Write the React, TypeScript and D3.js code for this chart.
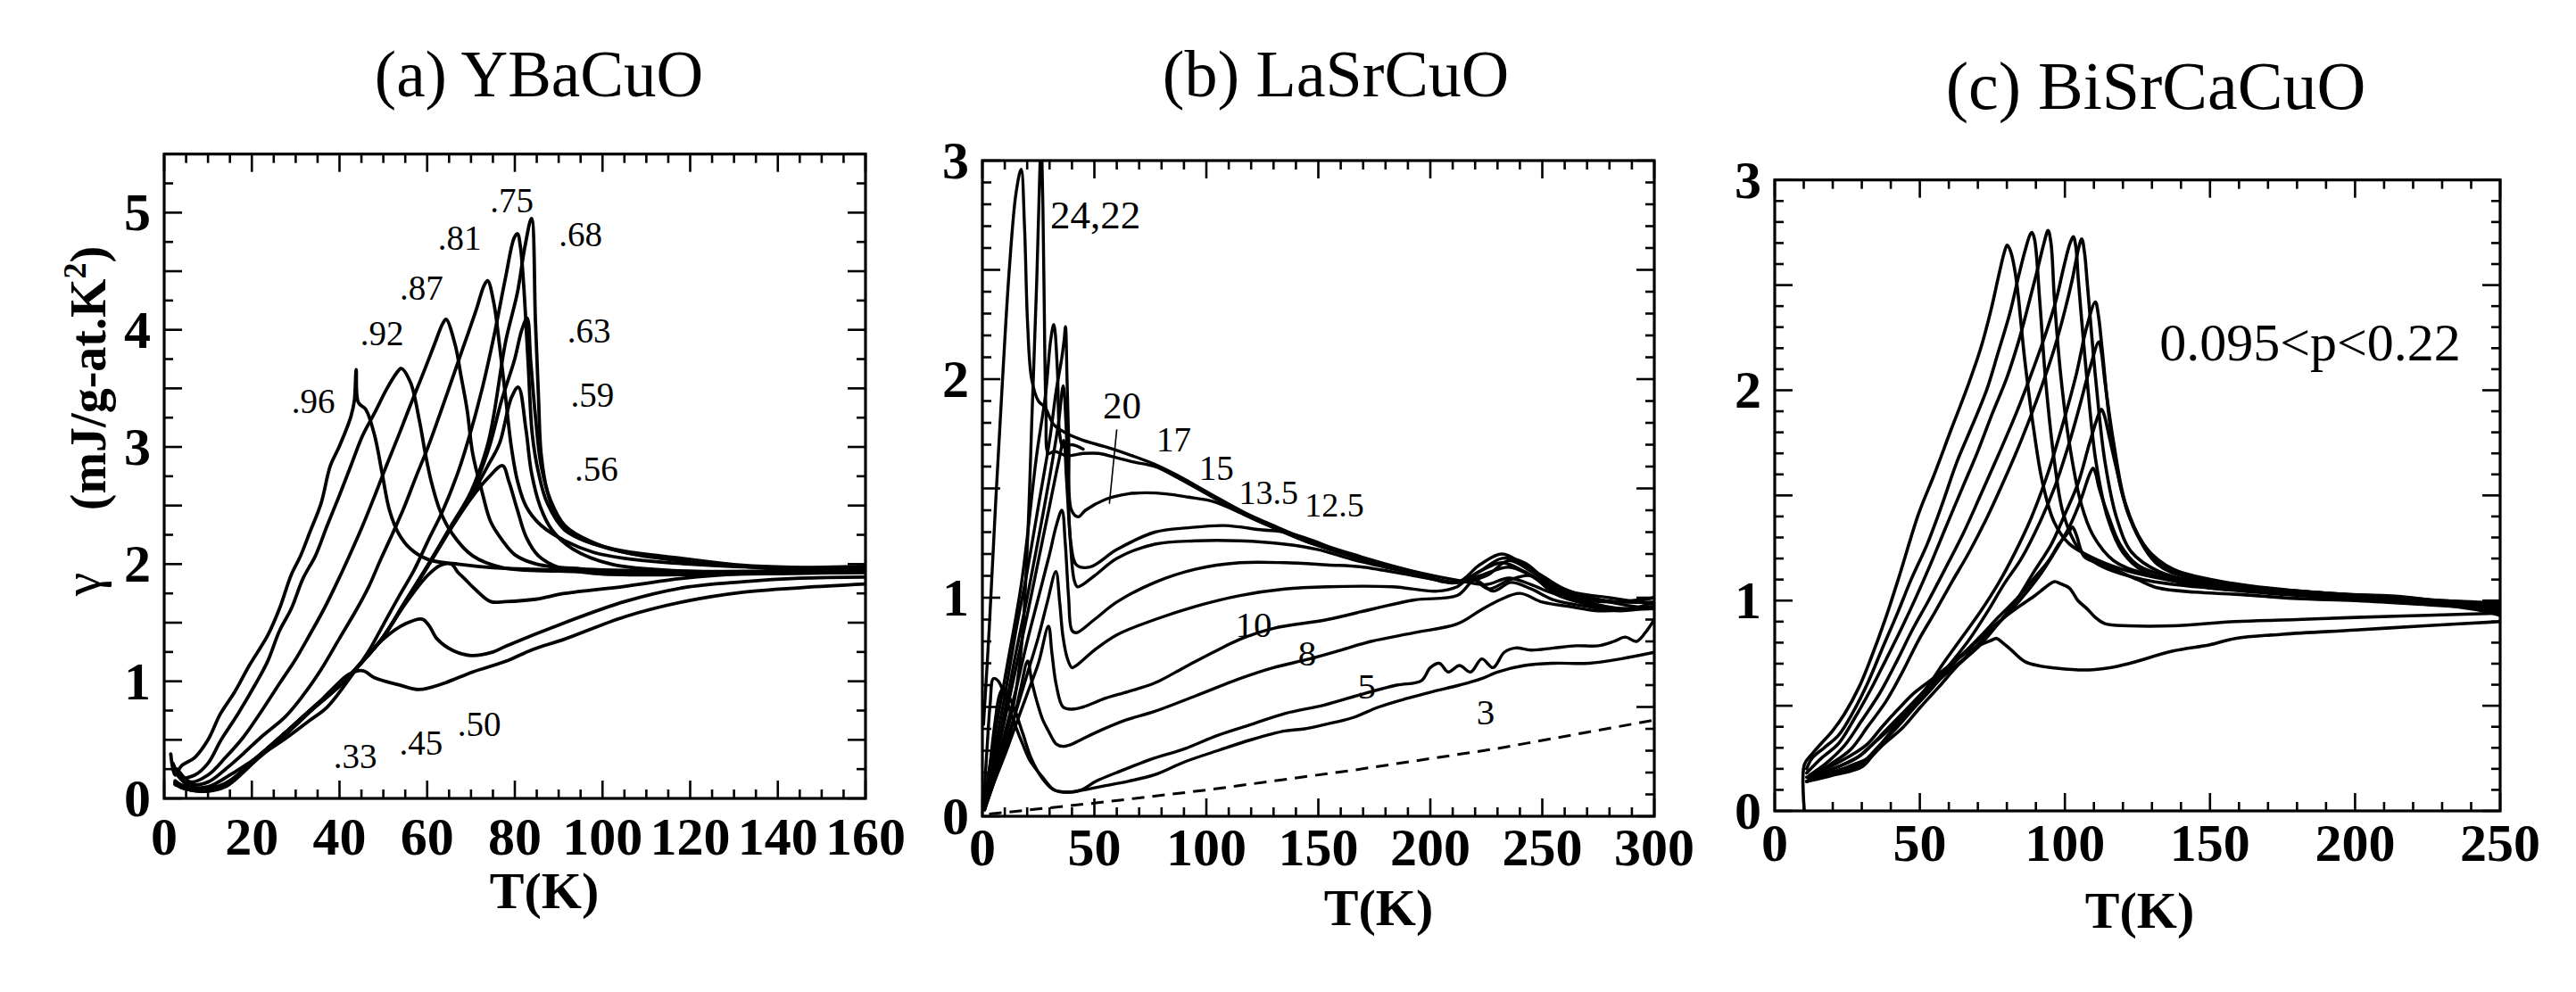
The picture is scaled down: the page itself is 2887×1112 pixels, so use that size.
import React from 'react';
import * as d3 from 'd3';

type Pt = [number, number];

// ---------------- Panel (a) YBaCuO ----------------
const aTitle = '(a) YBaCuO';
const aXTickLabels = [0, 20, 40, 60, 80, 100, 120, 140, 160];
const aYTickLabels = [0, 1, 2, 3, 4, 5];

const a96: Pt[] = [[1.5,0.38],[2.5,0.2],[4,0.28],[7,0.35],[10,0.5],[12.8,0.72],[16.1,0.91],[19.5,1.14],[23.6,1.39],[26.3,1.62],[29,1.91],[31.1,2.07],[33.1,2.26],[35.8,2.52],[37.9,2.84],[39.9,3.0],[42.6,3.26],[43.4,3.4],[43.8,3.66],[44.3,3.38],[46,3.32],[48,3.1],[49.7,2.78],[51.4,2.46],[53.5,2.26],[56.2,2.13],[60.2,2.04],[67,2.0],[75,1.97],[90,1.95],[110,1.93],[130,1.92],[160,1.93]];
const a92: Pt[] = [[2,0.3],[4,0.18],[7,0.2],[10,0.3],[13,0.5],[16.8,0.72],[20.9,0.98],[23.6,1.17],[26.3,1.43],[29,1.62],[31.7,1.88],[34.5,2.07],[37.2,2.33],[39.9,2.58],[42.6,2.84],[45.3,3.1],[48,3.29],[50.7,3.49],[53,3.63],[54.1,3.67],[56.2,3.55],[58.2,3.23],[59.6,2.94],[60.9,2.71],[62.9,2.46],[65.7,2.26],[70.4,2.07],[77.2,1.97],[90,1.94],[110,1.93],[130,1.93],[160,1.95]];
const a87: Pt[] = [[3,0.25],[6,0.14],[10,0.2],[14,0.35],[18,0.52],[22.3,0.75],[26.3,0.98],[29.7,1.17],[33.1,1.39],[36.5,1.62],[39.9,1.88],[42.6,2.1],[45.3,2.33],[48,2.58],[50.7,2.84],[53.5,3.1],[56.2,3.36],[58.9,3.61],[61.6,3.87],[63.5,4.05],[64.3,4.09],[66.4,3.87],[67.7,3.61],[69.1,3.32],[70.4,2.94],[72.5,2.62],[74.5,2.36],[77.2,2.2],[80,2.08],[85,2.0],[95,1.96],[115,1.94],[140,1.94],[160,1.96]];
const a81: Pt[] = [[3,0.22],[6,0.12],[10,0.14],[14,0.25],[18,0.38],[22,0.52],[27.7,0.7],[31.7,0.88],[35.8,1.1],[39.9,1.36],[44,1.62],[46.7,1.81],[49.4,2.04],[52.1,2.26],[54.8,2.49],[57.5,2.75],[60.2,3.0],[63,3.29],[65.7,3.58],[68.4,3.87],[71.1,4.16],[73,4.38],[73.8,4.42],[75.2,4.23],[76.5,3.87],[77.9,3.42],[79.2,3.0],[80.6,2.71],[82.6,2.49],[86,2.33],[91.4,2.2],[98,2.1],[105,2.05],[120,2.0],[140,1.97],[160,1.98]];
const a75: Pt[] = [[3,0.2],[6,0.1],[10,0.1],[15,0.2],[20,0.32],[28,0.52],[33,0.66],[37.2,0.78],[42.6,1.04],[46.7,1.26],[50.1,1.49],[53.5,1.72],[56.9,1.94],[60.2,2.2],[63.6,2.46],[67,2.78],[69.7,3.1],[72.5,3.49],[75.2,3.94],[77.9,4.45],[79.8,4.78],[80.6,4.82],[81.3,4.7],[82,4.39],[83,3.74],[84,3.1],[85.4,2.78],[87.4,2.52],[91.4,2.29],[98.2,2.17],[105,2.11],[118,2.05],[132,1.99],[160,1.96]];
const a68: Pt[] = [[2.5,0.15],[5,0.09],[9,0.07],[14,0.12],[20.8,0.34],[27.3,0.55],[33.8,0.77],[40.3,0.98],[46,1.2],[50,1.38],[55,1.68],[60,1.98],[65,2.3],[70,2.62],[74,3.05],[77.9,3.9],[80.6,4.32],[82.3,4.71],[83.8,4.95],[84.7,4.07],[85.4,3.42],[86,2.94],[87.4,2.62],[89.4,2.42],[92.8,2.26],[98.2,2.17],[105,2.1],[118.6,2.04],[132,1.98],[145,1.95],[160,1.97]];
const a63: Pt[] = [[2.5,0.14],[5,0.1],[9,0.08],[14,0.13],[20.8,0.33],[27.3,0.55],[33.8,0.77],[40.3,0.98],[46,1.2],[50,1.38],[55,1.68],[60,1.98],[65,2.29],[70,2.6],[74,2.98],[77,3.4],[79.9,3.74],[81.6,4.0],[82.8,4.1],[83.6,3.74],[84.7,3.26],[86,2.84],[88.1,2.55],[91.4,2.33],[96.9,2.2],[105,2.1],[125,2.0],[145,1.96],[160,1.95]];
const a59: Pt[] = [[2.5,0.13],[5,0.09],[9,0.07],[14,0.12],[20.8,0.34],[27.3,0.54],[33.8,0.76],[40.3,0.98],[46,1.2],[50,1.38],[55,1.67],[60,1.97],[65,2.28],[70,2.58],[74,2.85],[76.5,3.03],[79.2,3.42],[80.8,3.51],[82.5,3.16],[83.8,2.78],[85.8,2.49],[88.5,2.29],[93.2,2.13],[102,2.0],[118.6,1.94],[140,1.93],[160,1.94]];
const a56: Pt[] = [[2.5,0.12],[5,0.08],[9,0.06],[14,0.11],[20.8,0.33],[27.3,0.55],[33.8,0.77],[40.3,0.98],[46,1.2],[50,1.38],[55,1.68],[60,1.98],[65,2.28],[70,2.56],[74,2.74],[77.2,2.84],[78.6,2.71],[80.6,2.46],[82.6,2.23],[85.4,2.07],[90.1,1.97],[98.2,1.92],[118.6,1.91],[140,1.92],[160,1.93]];
const a50: Pt[] = [[2.5,0.14],[5,0.1],[9,0.08],[14,0.12],[20.8,0.34],[27.3,0.55],[33.8,0.76],[40.3,0.97],[46,1.2],[50,1.38],[55,1.66],[60,1.9],[63,1.99],[65.5,2.0],[67,1.93],[68.4,1.88],[71.1,1.78],[74.5,1.68],[77.9,1.68],[84.7,1.7],[91.4,1.75],[105,1.81],[118.6,1.88],[132,1.92],[160,1.96]];
const a45: Pt[] = [[2.5,0.13],[5,0.09],[9,0.07],[14,0.11],[20.8,0.33],[27.3,0.54],[33.8,0.76],[40.3,0.97],[46,1.2],[50,1.36],[55,1.49],[58.9,1.53],[60.5,1.47],[62.3,1.36],[66,1.26],[70,1.22],[75,1.25],[78,1.3],[91.4,1.5],[105,1.68],[118.6,1.8],[132,1.85],[145,1.88],[160,1.89]];
const a33: Pt[] = [[2.5,0.12],[5,0.08],[9,0.06],[14,0.1],[20.8,0.32],[27.3,0.53],[33.8,0.76],[38,0.92],[42.2,1.06],[45.3,1.09],[48,1.03],[53.5,0.97],[58.2,0.93],[63.6,0.98],[70.4,1.08],[77.9,1.17],[84,1.27],[91.4,1.36],[105,1.55],[118.6,1.68],[132,1.76],[145.7,1.8],[160,1.83]];
const aSeries: Pt[][] = [a96, a92, a87, a81, a75, a68, a63, a59, a56, a50, a45, a33];

const aLabelText = ['.96', '.92', '.87', '.81', '.75', '.68', '.63', '.59', '.56', '.50', '.45', '.33'];
const aLabelT = [34.0, 49.7, 58.7, 67.4, 79.3, 95.0, 96.9, 97.7, 98.6, 71.9, 58.6, 43.6];
const aLabelG = [3.29, 3.87, 4.26, 4.68, 5.0, 4.71, 3.89, 3.34, 2.71, 0.53, 0.37, 0.26];

// ---------------- Panel (b) LaSrCuO ----------------
const bTitle = '(b) LaSrCuO';
const bXTickLabels = [0, 50, 100, 150, 200, 250, 300];
const bYTickLabels = [0, 1, 2, 3];

const b24: Pt[] = [[0.5,0.42],[3,0.85],[6,1.45],[9,2.0],[12,2.5],[15,2.85],[17.3,2.96],[18.8,2.7],[20.2,2.25],[22,2.0],[25,1.9],[28,1.87],[32,1.79],[38,1.75],[45,1.72],[55,1.69],[64,1.66],[77,1.61],[87,1.56],[101,1.48],[117,1.39],[130,1.33],[144,1.27],[165,1.2],[193,1.12],[212,1.08],[225,1.06],[235,1.09],[245,1.06],[255,1.02],[270,1.0],[285,0.98],[300,0.98]];
const b22: Pt[] = [[1,0.08],[3,0.14],[8,0.29],[13.5,0.49],[17.5,0.78],[20.2,1.27],[22.2,1.85],[24.2,2.43],[25.5,2.9],[26.2,3.1],[27,2.8],[27.5,2.43],[28.4,1.85],[29.5,1.66],[32,1.67],[37.5,1.65],[45,1.66],[52,1.66],[60,1.64],[68,1.62],[77,1.6],[87,1.55],[101,1.47],[117,1.38],[130,1.32],[144,1.26],[165,1.19],[193,1.11],[212,1.07],[222,1.12],[232,1.16],[242,1.12],[252,1.06],[265,1.0],[280,0.98],[300,1.0]];
const b21: Pt[] = [[1,0.06],[4.2,0.29],[10.9,0.68],[17.5,1.07],[24.2,1.65],[28.2,1.93],[30.5,2.18],[31.9,2.25],[33.5,2.04],[34.5,1.75],[36,1.69],[40,1.7],[45,1.68]];
const b20: Pt[] = [[1,0.05],[5,0.28],[10,0.55],[15,0.85],[20,1.12],[25,1.42],[30,1.72],[33,1.95],[35.5,2.1],[36.5,2.18],[37.1,2.24],[37.8,2.0],[38.6,1.7],[39.8,1.4],[42.8,1.37],[46,1.4],[55,1.45],[65,1.475],[73,1.48],[82,1.475],[92,1.46],[103,1.44],[117,1.38],[130,1.32],[144,1.26],[165,1.19],[193,1.11],[212,1.07],[222,1.15],[232,1.2],[242,1.15],[250,1.1],[262,1.03],[280,1.0],[300,0.97]];
const b17: Pt[] = [[1,0.04],[5,0.24],[10,0.48],[15,0.75],[20,1.0],[25,1.27],[30,1.55],[34,1.8],[36.1,1.97],[37.3,1.8],[38.3,1.5],[39.5,1.25],[42,1.15],[48,1.14],[60,1.22],[77,1.3],[92,1.32],[108,1.33],[125,1.31],[135,1.3],[148,1.26],[165,1.19],[193,1.11],[212,1.07],[225,1.1],[235,1.17],[245,1.12],[255,1.05],[270,1.0],[285,0.98],[300,1.0]];
const b15: Pt[] = [[1,0.04],[5,0.22],[10,0.44],[15,0.68],[20,0.92],[25,1.17],[30,1.42],[34,1.62],[36.3,1.72],[37.5,1.55],[39,1.3],[41,1.08],[42.5,1.05],[50,1.1],[60,1.18],[77,1.245],[95,1.26],[115,1.26],[135,1.245],[150,1.22],[167,1.17],[193,1.11],[212,1.07],[222,1.12],[232,1.18],[242,1.16],[252,1.08],[265,1.02],[285,0.97],[300,0.95]];
const b135: Pt[] = [[1,0.03],[5,0.2],[10,0.38],[15,0.58],[20,0.8],[25,1.0],[30,1.2],[33,1.33],[35.5,1.4],[37,1.25],[38.5,1.0],[40,0.85],[42,0.84],[50,0.9],[60,0.98],[77,1.07],[95,1.13],[115,1.16],[135,1.16],[154,1.15],[170,1.14],[193,1.1],[212,1.07],[222,1.1],[235,1.14],[245,1.1],[255,1.03],[270,0.98],[285,0.95],[300,0.95]];
const b125: Pt[] = [[1,0.03],[5,0.17],[10,0.32],[15,0.48],[20,0.65],[25,0.82],[29,0.98],[32.8,1.12],[34.5,0.98],[36,0.82],[38,0.72],[40,0.68],[42,0.69],[50,0.76],[60,0.83],[77,0.9],[95,0.96],[115,1.01],[135,1.04],[154,1.05],[183,1.05],[203,1.03],[212,1.05],[218,1.09],[226,1.04],[235,1.08],[245,1.1],[255,1.02],[270,0.97],[285,0.95],[300,0.96]];
const b10: Pt[] = [[1,0.03],[5,0.15],[10,0.28],[15,0.42],[20,0.56],[25,0.7],[29.5,0.87],[31,0.75],[33,0.6],[36,0.5],[40,0.49],[45,0.5],[55,0.54],[65,0.57],[77,0.61],[90,0.68],[103,0.75],[115,0.81],[130,0.86],[154,0.9],[175,0.95],[193,0.99],[212,1.01],[220,1.08],[228,1.03],[236,1.07],[245,1.04],[255,0.99],[270,0.96],[285,0.94],[300,0.96]];
const b8: Pt[] = [[1,0.03],[5,0.15],[10,0.3],[14,0.44],[17,0.58],[20.2,0.71],[22,0.62],[24.2,0.53],[27,0.44],[29.5,0.39],[33,0.33],[36,0.32],[40,0.33],[44,0.35],[50,0.38],[64,0.44],[77,0.48],[95,0.55],[115,0.63],[130,0.68],[146,0.72],[160,0.76],[173.5,0.8],[193,0.84],[212,0.88],[222,0.94],[231,0.99],[240,1.02],[250,0.98],[262,0.96],[275,0.94],[290,0.95],[300,0.98]];
const b5: Pt[] = [[0.5,0.05],[2,0.3],[3.5,0.52],[4.9,0.63],[7,0.62],[10,0.55],[14.9,0.41],[18,0.33],[21.5,0.25],[26.8,0.18],[32.1,0.12],[37.5,0.11],[44,0.12],[50.7,0.16],[60,0.2],[75,0.26],[90.6,0.31],[105,0.37],[120,0.42],[135,0.47],[153,0.51],[170,0.56],[185,0.6],[196,0.62],[200,0.68],[204,0.7],[208,0.66],[213,0.69],[218,0.66],[223,0.72],[228,0.68],[233,0.75],[238,0.77],[245,0.76],[255,0.77],[265,0.78],[275,0.78],[282,0.8],[287,0.82],[292,0.8],[296,0.84],[300,0.9]];
const b3: Pt[] = [[1,0.04],[3,0.2],[5.5,0.42],[7.5,0.55],[8.9,0.58],[11,0.56],[14,0.5],[18,0.38],[22,0.26],[27,0.17],[32,0.12],[38,0.11],[45,0.12],[55,0.14],[65,0.16],[77,0.19],[90.6,0.25],[105,0.3],[120,0.35],[135,0.39],[144,0.4],[153,0.42],[165,0.45],[177,0.5],[190,0.54],[201,0.57],[213,0.6],[223,0.63],[230,0.66],[242,0.69],[255,0.7],[271,0.7],[285,0.72],[300,0.75]];
const bSeries: Pt[][] = [b24, b22, b21, b20, b17, b15, b135, b125, b10, b8, b5, b3];
const bDashed: Pt[] = [[3,0.01],[50,0.06],[100,0.12],[165,0.21],[230,0.31],[300,0.44]];

const bLabelText = ['24,22', '20', '17', '15', '13.5', '12.5', '10', '8', '5', '3'];
const bLabelT = [50.4, 62.4, 85.5, 104.5, 127.8, 157.2, 121.1, 145, 171.6, 224.7];
const bLabelG = [2.69, 1.82, 1.67, 1.54, 1.43, 1.37, 0.82, 0.69, 0.54, 0.42];
const bLeader: Pt[] = [[60, 1.77], [56.7, 1.43]];
const bLabelFont = [45, 43, 39, 39, 38, 38, 41, 41, 41, 41];

// ---------------- Panel (c) BiSrCaCuO ----------------
const cTitle = '(c) BiSrCaCuO';
const cXTickLabels = [0, 50, 100, 150, 200, 250];
const cYTickLabels = [0, 1, 2, 3];
const cNote = '0.095<p<0.22';
const cNotePos: Pt = [184.5, 2.14];

const c1: Pt[] = [[10.2,0.0],[10.2,0.22],[12.8,0.27],[16,0.32],[19.9,0.38],[24,0.46],[29.1,0.59],[33,0.72],[38.3,0.92],[43,1.12],[49.5,1.41],[55,1.6],[60.7,1.81],[66,2.0],[71,2.2],[74.5,2.38],[77.1,2.54],[79,2.65],[80.1,2.69],[81.3,2.66],[83.1,2.54],[86.2,2.14],[89.3,1.81],[92.3,1.56],[96.4,1.37],[101.5,1.27],[111.7,1.19],[121.9,1.14],[142.3,1.08],[150,1.06],[175,1.03],[200,1.01],[225,0.99],[250,0.97]];
const c2: Pt[] = [[11,0.2],[12.8,0.25],[17,0.3],[22,0.36],[27,0.47],[32.1,0.61],[37,0.77],[42.3,0.94],[47,1.1],[52.6,1.27],[57.5,1.45],[62.8,1.66],[68,1.83],[73,2.0],[77,2.18],[81.1,2.37],[84,2.54],[86.2,2.66],[88,2.74],[88.6,2.75],[89.5,2.72],[91.3,2.43],[93.4,2.04],[96.4,1.66],[99.5,1.41],[104.6,1.25],[111.7,1.17],[127,1.1],[150,1.06],[175,1.04],[200,1.02],[225,1.0],[250,0.96]];
const c3: Pt[] = [[11,0.18],[16,0.25],[22,0.32],[27.5,0.44],[33.2,0.58],[38,0.71],[43.4,0.86],[48.5,1.01],[53.6,1.17],[59,1.35],[64.8,1.54],[70,1.71],[75,1.89],[80,2.06],[84.2,2.24],[87.5,2.41],[90.3,2.56],[92.8,2.7],[94.2,2.76],[95.2,2.7],[96.4,2.43],[98.5,2.08],[101.5,1.75],[105.6,1.46],[109.7,1.31],[116.8,1.19],[127,1.13],[150,1.07],[175,1.04],[200,1.02],[225,1.0],[250,0.97]];
const c4: Pt[] = [[12,0.17],[18,0.23],[24,0.31],[30,0.43],[36.2,0.56],[42,0.71],[47.4,0.86],[53,1.0],[58.7,1.15],[65,1.32],[70.9,1.5],[77,1.69],[83.2,1.89],[88.5,2.08],[93.4,2.27],[97,2.43],[99.5,2.58],[101.8,2.7],[102.9,2.73],[103.8,2.68],[104.6,2.53],[107.7,2.04],[110.7,1.66],[114.8,1.39],[119.9,1.23],[127,1.14],[140,1.09],[160,1.06],[185,1.04],[210,1.01],[230,1.0],[250,0.98]];
const c5: Pt[] = [[12,0.16],[19,0.22],[26,0.29],[32,0.4],[38.3,0.52],[44,0.66],[49.5,0.81],[55,0.94],[60.7,1.08],[67,1.23],[73,1.39],[79,1.57],[85.2,1.77],[91,1.98],[96.4,2.2],[100,2.38],[102.6,2.53],[104.8,2.68],[105.8,2.72],[106.8,2.65],[107.7,2.51],[110.7,2.04],[113.8,1.66],[117.9,1.39],[123,1.23],[132.1,1.14],[145,1.09],[165,1.06],[190,1.03],[215,1.01],[235,0.99],[250,0.95]];
const c6: Pt[] = [[12,0.16],[20,0.2],[28.1,0.25],[34,0.32],[40.3,0.4],[46,0.49],[52.6,0.59],[58,0.7],[64.8,0.83],[71,0.95],[77,1.08],[82.5,1.22],[88.3,1.39],[94,1.6],[99.5,1.85],[104,2.08],[107.5,2.3],[110.5,2.42],[111.5,2.36],[112.8,2.2],[115.8,1.81],[119.9,1.5],[125,1.31],[132.1,1.17],[142.3,1.11],[160,1.07],[185,1.04],[210,1.02],[230,1.0],[250,0.99]];
const c7: Pt[] = [[12,0.15],[21,0.19],[30.1,0.23],[36,0.31],[42.3,0.4],[48,0.49],[54.6,0.59],[60,0.69],[66.8,0.81],[73,0.94],[79.1,1.08],[85,1.2],[91.3,1.37],[96.5,1.54],[101.5,1.75],[105,1.92],[108.5,2.1],[111.7,2.23],[112.6,2.18],[113.8,2.04],[116.8,1.75],[120.9,1.46],[127,1.27],[135.2,1.15],[147.4,1.1],[165,1.06],[190,1.03],[215,1.02],[235,0.98],[250,0.93]];
const c8: Pt[] = [[12,0.15],[21,0.18],[30.1,0.22],[37,0.31],[44.4,0.4],[50,0.49],[56.6,0.59],[63,0.69],[70.9,0.79],[77,0.89],[83.2,1.0],[89,1.13],[95.4,1.27],[100,1.41],[104.6,1.56],[108.5,1.75],[111.5,1.88],[112.6,1.91],[113.6,1.88],[114.8,1.81],[117.9,1.62],[121.9,1.41],[128,1.25],[137.2,1.15],[150.5,1.1],[170,1.06],[195,1.03],[220,1.01],[240,0.97],[250,0.95]];
const c9: Pt[] = [[11,0.14],[20,0.17],[30.1,0.21],[35,0.29],[40.3,0.38],[46,0.47],[52.6,0.56],[58,0.64],[65.8,0.73],[72,0.82],[79.1,0.92],[85,1.01],[91.3,1.12],[96,1.22],[101.5,1.35],[105.5,1.48],[108.5,1.6],[109.7,1.63],[110.7,1.6],[111.7,1.54],[114.8,1.41],[118.9,1.27],[125,1.17],[137.2,1.11],[152.6,1.08],[175,1.05],[200,1.02],[225,0.99],[250,0.94]];
const c10: Pt[] = [[11,0.14],[20,0.18],[27,0.22],[32.1,0.25],[38,0.34],[44.4,0.44],[50,0.53],[56.6,0.63],[63,0.72],[70.9,0.83],[77,0.92],[84.2,1.02],[89,1.1],[94.4,1.19],[98,1.27],[101.5,1.33],[102.6,1.35],[104,1.31],[106.6,1.21],[111,1.18],[116.8,1.15],[125,1.1],[132.1,1.06],[145,1.04],[158.7,1.03],[180,1.01],[200,1.0],[225,0.98],[250,0.96]];
const c11: Pt[] = [[11,0.16],[20,0.2],[25,0.23],[30.1,0.27],[36,0.35],[42.3,0.44],[48,0.52],[54.6,0.61],[60,0.69],[66.8,0.77],[73,0.85],[79.1,0.92],[84,0.97],[89.3,1.02],[93,1.06],[96.4,1.09],[98.5,1.08],[101.5,1.06],[104.5,1.0],[107.7,0.96],[110.5,0.92],[113.8,0.89],[121.9,0.88],[137.2,0.88],[158.7,0.9],[180,0.91],[200,0.92],[225,0.93],[250,0.94]];
const c12: Pt[] = [[11,0.14],[16,0.19],[21.9,0.23],[27,0.27],[32.1,0.32],[37,0.4],[42.3,0.48],[48,0.56],[54.6,0.63],[60,0.69],[65.8,0.75],[71,0.79],[74.5,0.81],[76.5,0.82],[78.5,0.8],[81.1,0.77],[86.2,0.71],[91,0.69],[96.4,0.68],[106.6,0.67],[115,0.68],[121.9,0.7],[137.2,0.76],[150,0.79],[158.7,0.82],[175,0.84],[200,0.86],[224,0.88],[250,0.9]];
const cSeries: Pt[][] = [c1, c2, c3, c4, c5, c6, c7, c8, c9, c10, c11, c12];

const xAxisTitle = 'T(K)';
const aYTitle = '(mJ/g-at.K';

// ---------------- drawing ----------------
const FONT = '"Liberation Serif", "Times New Roman", serif';

interface PanelProps {
  left: number; right: number; top: number; bottom: number;
  xMax: number; yMax: number;
  xMinor: number; xMajor: number; yMinor: number; yMajor: number;
  xLabels: number[]; yLabels: number[];
  xLabelBaseline: number;
  title: string; titleX: number; titleY: number; titleSize: number;
  tkX: number; tkY: number;
  series: Pt[][]; strokeW: number;
  id: string;
  children?: (x: d3.ScaleLinear<number, number>, y: d3.ScaleLinear<number, number>) => React.ReactNode;
}

function Panel(p: PanelProps) {
  const x = d3.scaleLinear().domain([0, p.xMax]).range([p.left, p.right]);
  const y = d3.scaleLinear().domain([0, p.yMax]).range([p.bottom, p.top]);
  const line = d3.line<Pt>().x(d => x(d[0])).y(d => y(d[1])).curve(d3.curveCatmullRom.alpha(0.5));
  const xt = d3.range(0, p.xMax + 1e-9, p.xMinor);
  const yt = d3.range(0, p.yMax + 1e-9, p.yMinor);
  const isMaj = (v: number, s: number) => Math.abs(v / s - Math.round(v / s)) < 1e-6;
  return (
    <g>
      <defs>
        <clipPath id={p.id}>
          <rect x={p.left} y={p.top} width={p.right - p.left} height={p.bottom - p.top} />
        </clipPath>
      </defs>
      <text x={p.titleX} y={p.titleY} fontSize={p.titleSize} textAnchor="middle" fontFamily={FONT}>{p.title}</text>
      <g clipPath={`url(#${p.id})`} fill="none" stroke="#000" strokeWidth={p.strokeW} strokeLinejoin="round" strokeLinecap="round">
        {p.series.map((s, i) => <path key={i} d={line(s) || ''} />)}
      </g>
      {p.children && p.children(x, y)}
      <g stroke="#000" strokeWidth={2.6}>
        {xt.map((v, i) => {
          const L = isMaj(v, p.xMajor) ? 20 : 10;
          return (
            <g key={'x' + i}>
              <line x1={x(v)} x2={x(v)} y1={p.bottom} y2={p.bottom - L} />
              <line x1={x(v)} x2={x(v)} y1={p.top} y2={p.top + L} />
            </g>
          );
        })}
        {yt.map((v, i) => {
          const L = isMaj(v, p.yMajor) ? 20 : 10;
          return (
            <g key={'y' + i}>
              <line x1={p.left} x2={p.left + L} y1={y(v)} y2={y(v)} />
              <line x1={p.right} x2={p.right - L} y1={y(v)} y2={y(v)} />
            </g>
          );
        })}
      </g>
      <rect x={p.left} y={p.top} width={p.right - p.left} height={p.bottom - p.top} fill="none" stroke="#000" strokeWidth={3.2} />
      <g fontFamily={FONT} fontWeight="bold" fontSize={60}>
        {p.xLabels.map(v => (
          <text key={'xl' + v} x={x(v)} y={p.xLabelBaseline} textAnchor="middle">{v}</text>
        ))}
        {p.yLabels.map(v => (
          <text key={'yl' + v} x={p.left - 15} y={y(v) + 20} textAnchor="end">{v}</text>
        ))}
        <text x={p.tkX} y={p.tkY} textAnchor="middle" fontSize={58}>{xAxisTitle}</text>
      </g>
    </g>
  );
}

export default function App() {
  return (
    <svg width={2887} height={1112} viewBox="0 0 2887 1112" style={{ position: 'absolute', left: 0, top: 0, background: '#fff' }}>
      <rect x={0} y={0} width={2887} height={1112} fill="#fff" />
      <Panel id="ca" left={184} right={970} top={172.7} bottom={895} xMax={160} yMax={5.5}
        xMinor={5} xMajor={20} yMinor={0.25} yMajor={0.5}
        xLabels={aXTickLabels} yLabels={aYTickLabels} xLabelBaseline={958}
        title={aTitle} titleX={604} titleY={108} titleSize={73}
        tkX={610} tkY={1018} series={aSeries} strokeW={3.8}>
        {(x, y) => (
          <g fontFamily={FONT} fontSize={39} textAnchor="middle">
            {aLabelText.map((t, i) => <text key={t} x={x(aLabelT[i])} y={y(aLabelG[i])}>{t}</text>)}
          </g>
        )}
      </Panel>
      <Panel id="cb" left={1101} right={1854} top={180} bottom={915} xMax={300} yMax={3}
        xMinor={10} xMajor={50} yMinor={0.1} yMajor={0.5}
        xLabels={bXTickLabels} yLabels={bYTickLabels} xLabelBaseline={970}
        title={bTitle} titleX={1497} titleY={108} titleSize={74}
        tkX={1545} tkY={1037} series={bSeries} strokeW={3.4}>
        {(x, y) => (
          <g>
            <path d={d3.line<Pt>().x(d => x(d[0])).y(d => y(d[1]))(bDashed) || ''} fill="none" stroke="#000" strokeWidth={3} strokeDasharray="14 9" />
            <line x1={x(bLeader[0][0])} y1={y(bLeader[0][1])} x2={x(bLeader[1][0])} y2={y(bLeader[1][1])} stroke="#000" strokeWidth={1.6} />
            <g fontFamily={FONT} textAnchor="middle">
              {bLabelText.map((t, i) => <text key={t} x={x(bLabelT[i])} y={y(bLabelG[i])} fontSize={bLabelFont[i]}>{t}</text>)}
            </g>
          </g>
        )}
      </Panel>
      <Panel id="cc" left={1989} right={2802} top={201.7} bottom={909} xMax={250} yMax={3}
        xMinor={10} xMajor={50} yMinor={0.1} yMajor={0.5}
        xLabels={cXTickLabels} yLabels={cYTickLabels} xLabelBaseline={965}
        title={cTitle} titleX={2416} titleY={122} titleSize={76}
        tkX={2398} tkY={1040} series={cSeries} strokeW={3.6}>
        {(x, y) => (
          <text x={x(cNotePos[0])} y={y(cNotePos[1])} fontFamily={FONT} fontSize={60} textAnchor="middle">{cNote}</text>
        )}
      </Panel>
      <g fontFamily={FONT}>
        <text transform="translate(112,655) rotate(-90)" fontSize={60} textAnchor="middle">γ</text>
        <text transform="translate(118,424) rotate(-90)" fontSize={56} fontWeight="bold" textAnchor="middle">
          {aYTitle}<tspan dy={-22} fontSize={36}>2</tspan><tspan dy={22}>)</tspan>
        </text>
      </g>
    </svg>
  );
}
